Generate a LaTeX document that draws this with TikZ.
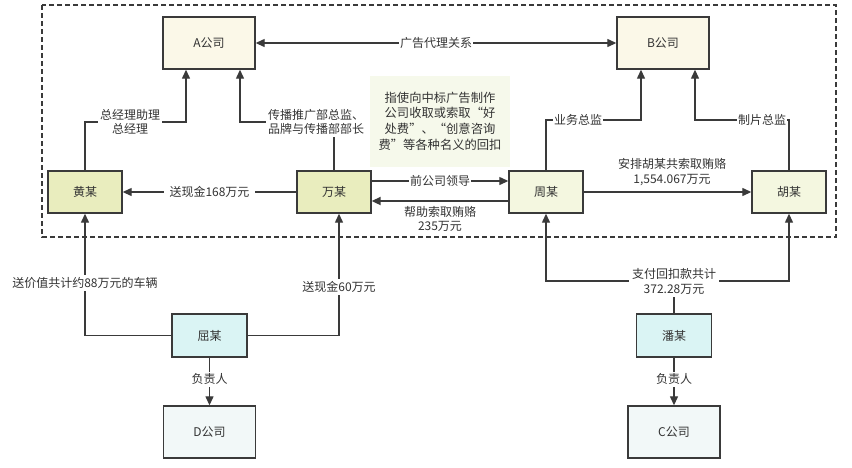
\documentclass[tikz,border=0pt]{standalone}
\usepackage{fontspec}
\setmainfont{Noto Sans CJK SC}
\usetikzlibrary{arrows.meta}
\definecolor{ln}{HTML}{3A3A3A}
\definecolor{tx}{HTML}{333333}
\definecolor{fcomp}{HTML}{FBF8E8}
\definecolor{fgreen}{HTML}{E9EDBE}
\definecolor{flight}{HTML}{F4F7E0}
\definecolor{fcyan}{HTML}{DAF4F4}
\definecolor{fpale}{HTML}{F2F8F8}
\definecolor{fnote}{HTML}{F6F9EB}
\tikzset{
  box/.style={draw=ln, line width=1.4pt, text=tx, font=\fontsize{12}{14}\selectfont, inner sep=0pt},
  comp/.style={box, fill=fcomp, minimum width=92pt, minimum height=52pt},
  person/.style={box, minimum width=74pt, minimum height=42pt},
  conn/.style={draw=ln, line width=1.3pt},
  arr/.style={conn, -{Triangle[length=9pt,width=8pt]}},
  darr/.style={conn, {Triangle[length=9pt,width=8pt]}-{Triangle[length=9pt,width=8pt]}},
  lbl/.style={fill=white, text=tx, font=\fontsize{12}{14.5}\selectfont, align=center, inner sep=2pt},
}
\begin{document}
\begin{tikzpicture}[x=1pt,y=-1pt]
\useasboundingbox (0,0) rectangle (852,467);
\fill[white] (0,0) rectangle (852,467);
% dashed group
\draw[ln, line width=1.3pt, dash pattern=on 5pt off 3pt] (42,5) rectangle (836,237);
% nodes
\node[comp] (A) at (209,43) {A公司};
\node[comp] (B) at (663,43) {B公司};
\node[person, fill=fgreen] (huang) at (85,192) {黄某};
\node[person, fill=fgreen] (wan) at (334,192) {万某};
\node[person, fill=flight] (zhou) at (546,192) {周某};
\node[person, fill=flight] (hu) at (789,192) {胡某};
\node[person, fill=fcyan, minimum width=75pt, minimum height=43pt] (qu) at (209.5,335.5) {屈某};
\node[person, fill=fcyan, minimum width=75pt, minimum height=43pt] (pan) at (674,335.5) {潘某};
\node[comp, fill=fpale] (D) at (209.5,432) {D公司};
\node[comp, fill=fpale] (C) at (674,432) {C公司};
\node[fill=fnote, text=tx, minimum width=140pt, minimum height=91pt, align=center,
      font=\fontsize{12.3}{15.7}\selectfont, inner sep=0pt] (note) at (440,121)
  {指使向中标广告制作\\公司收取或索取“好\\处费”、“创意咨询\\费”等各种名义的回扣};
% A <-> B
\draw[darr] (A.east) -- node[lbl, inner sep=1pt] (l1) {广告代理关系} (B.west);
% huang -> A
\coordinate (j1) at (186,122);
\draw[arr] (huang.north) |- (j1) -- (j1 |- A.south);
\node[lbl] (l2) at (130,122) {总经理助理\\总经理};
% wan -> A
\coordinate (j2) at (240,122);
\draw[arr] (wan.north) |- (j2) -- (j2 |- A.south);
\node[lbl] (l3) at (316,122) {传播推广部总监、\\品牌与传播部部长};
% wan -> huang
\draw[arr] (wan.west) -- node[lbl, inner sep=6pt] (l4) {送现金168万元} (huang.east);
% wan -> zhou
\draw[arr] (wan.east |- 0,181) -- node[lbl, inner sep=1pt] (l5) {前公司领导} (zhou.west |- 0,181);
% zhou -> wan
\draw[conn, line width=2pt, -{Triangle[length=9pt,width=8pt]}] (zhou.west |- 0,201) -- (wan.east |- 0,201);
\node[lbl, fill=none] (l6) at (440,219) {帮助索取贿赂\\235万元};
% zhou -> hu
\draw[arr] (zhou.east) -- (hu.west);
\node[lbl, fill=none] (l7) at (672,172) {安排胡某共索取贿赂\\1,554.067万元};
% zhou -> B
\coordinate (j3) at (641,120);
\draw[arr] (zhou.north) |- (j3) -- (j3 |- B.south);
\node[lbl, inner sep=1pt] (l8) at (578,120) {业务总监};
% hu -> B
\coordinate (j4) at (695,120);
\draw[arr] (hu.north) |- (j4) -- (j4 |- B.south);
\node[lbl, inner sep=1pt] (l9) at (762,120) {制片总监};
% qu -> huang
\coordinate (j5) at (85,335.5);
\draw[arr] (qu.west) -- (j5) -- (huang.south);
\node[lbl] (l10) at (85,283) {送价值共计约88万元的车辆};
% qu -> wan
\coordinate (j6) at (339,335.5);
\draw[arr] (qu.east) -- (j6) -- (j6 |- wan.south);
\node[lbl] (l11) at (339,287) {送现金60万元};
% qu -> D
\draw[arr] (qu.south) -- node[lbl, pos=0.45] (l12) {负责人} (D.north);
% pan -> zhou, hu
\coordinate (j7) at (674,281);
\draw[arr] (pan.north) -- (j7) -| (zhou.south);
\draw[arr] (j7) -| (hu.south);
\node[lbl, inner sep=3pt] (l13) at (674,281.5) {支付回扣款共计\\372.28万元};
% pan -> C
\draw[arr] (pan.south) -- node[lbl, pos=0.45] (l14) {负责人} (C.north);
\end{tikzpicture}
\end{document}
